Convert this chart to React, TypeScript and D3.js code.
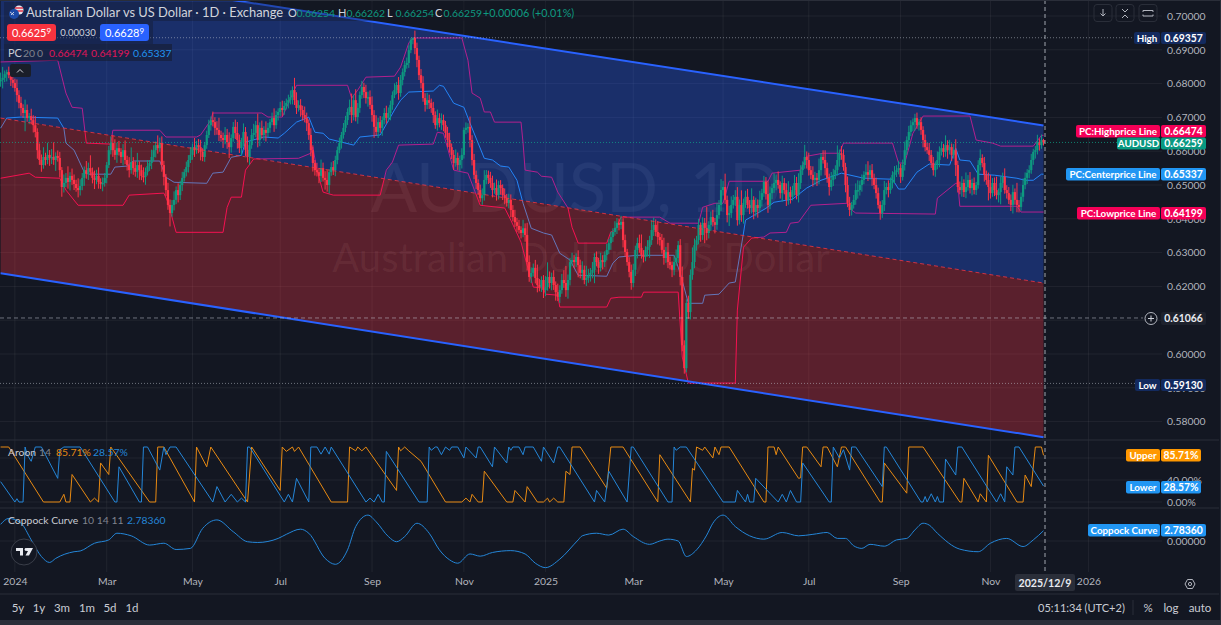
import React, { useEffect, useRef } from 'react';
import * as d3 from 'd3';

// daily closes in pips (0.0001), first bar is late Dec 2023, last is 2025/12/9
const closes = [
  6811, 6817, 6828, 6834, 6825, 6811, 6802, 6787, 6766, 6743,
  6728, 6713, 6722, 6698, 6704, 6692, 6677, 6657, 6603, 6574,
  6559, 6583, 6574, 6589, 6580, 6583, 6574, 6586, 6580, 6544,
  6494, 6506, 6521, 6509, 6527, 6515, 6503, 6491, 6485, 6497,
  6521, 6544, 6533, 6550, 6539, 6521, 6515, 6527, 6509, 6503,
  6506, 6521, 6559, 6603, 6624, 6603, 6589, 6609, 6598, 6583,
  6603, 6574, 6559, 6544, 6568, 6550, 6539, 6559, 6544, 6527,
  6524, 6539, 6556, 6565, 6583, 6603, 6618, 6609, 6624, 6559,
  6524, 6485, 6441, 6417, 6441, 6456, 6485, 6470, 6500, 6521,
  6538, 6553, 6574, 6589, 6612, 6603, 6618, 6612, 6598, 6583,
  6618, 6648, 6677, 6692, 6686, 6669, 6663, 6648, 6639, 6633,
  6648, 6627, 6612, 6639, 6672, 6654, 6633, 6609, 6627, 6657,
  6604, 6583, 6618, 6648, 6654, 6677, 6633, 6669, 6648, 6663,
  6654, 6669, 6686, 6698, 6677, 6707, 6716, 6728, 6722, 6734,
  6743, 6751, 6760, 6781, 6751, 6728, 6736, 6722, 6707, 6698,
  6683, 6648, 6603, 6565, 6544, 6538, 6527, 6550, 6521, 6515,
  6500, 6538, 6553, 6544, 6574, 6603, 6624, 6648, 6669, 6692,
  6716, 6731, 6707, 6751, 6701, 6728, 6766, 6790, 6775, 6757,
  6760, 6737, 6707, 6672, 6657, 6686, 6669, 6692, 6713, 6698,
  6713, 6737, 6766, 6781, 6796, 6772, 6811, 6834, 6855, 6861,
  6899, 6929, 6935, 6905, 6870, 6825, 6802, 6757, 6737, 6751,
  6743, 6728, 6707, 6677, 6698, 6683, 6692, 6677, 6654, 6633,
  6612, 6589, 6565, 6580, 6559, 6574, 6589, 6663, 6669, 6672,
  6633, 6574, 6530, 6506, 6485, 6461, 6470, 6515, 6530, 6521,
  6506, 6485, 6491, 6470, 6500, 6491, 6470, 6461, 6447, 6456,
  6426, 6405, 6390, 6379, 6367, 6358, 6372, 6352, 6272, 6228,
  6240, 6255, 6225, 6204, 6198, 6219, 6189, 6198, 6228, 6210,
  6228, 6204, 6183, 6169, 6189, 6219, 6210, 6189, 6219, 6272,
  6278, 6272, 6287, 6263, 6240, 6249, 6219, 6225, 6234, 6240,
  6249, 6287, 6272, 6255, 6278, 6272, 6293, 6308, 6328, 6346,
  6361, 6373, 6388, 6382, 6391, 6337, 6302, 6272, 6243, 6210,
  6249, 6308, 6328, 6314, 6293, 6287, 6308, 6317, 6337, 6367,
  6382, 6361, 6346, 6337, 6308, 6284, 6302, 6272, 6263, 6249,
  6272, 6284, 6322, 6228, 6026, 5958, 6151, 6124, 6234, 6272,
  6322, 6337, 6382, 6352, 6388, 6373, 6358, 6382, 6405, 6390,
  6382, 6411, 6441, 6485, 6494, 6456, 6411, 6417, 6441, 6456,
  6465, 6396, 6441, 6411, 6447, 6465, 6441, 6432, 6456, 6420,
  6441, 6432, 6456, 6476, 6509, 6473, 6441, 6476, 6491, 6506,
  6515, 6500, 6476, 6506, 6485, 6456, 6479, 6465, 6485, 6506,
  6470, 6506, 6544, 6559, 6583, 6574, 6544, 6530, 6515, 6521,
  6515, 6544, 6583, 6574, 6550, 6521, 6494, 6515, 6530, 6544,
  6574, 6594, 6589, 6553, 6500, 6447, 6426, 6441, 6456, 6485,
  6485, 6500, 6515, 6530, 6538, 6530, 6544, 6521, 6500, 6476,
  6441, 6417, 6441, 6485, 6494, 6485, 6506, 6530, 6538, 6544,
  6550, 6524, 6559, 6603, 6633, 6657, 6677, 6686, 6698, 6677,
  6686, 6663, 6633, 6612, 6603, 6589, 6565, 6544, 6559, 6574,
  6598, 6609, 6598, 6618, 6603, 6612, 6589, 6603, 6559, 6494,
  6485, 6506, 6479, 6494, 6515, 6491, 6506, 6485, 6500, 6559,
  6580, 6565, 6530, 6515, 6494, 6476, 6506, 6485, 6470, 6479,
  6506, 6524, 6485, 6476, 6456, 6441, 6479, 6456, 6441, 6435,
  6465, 6500, 6521, 6536, 6544, 6574, 6598, 6603, 6627, 6618,
  6633, 6626,
];
// wick sizes above and below the candle body, in units of WICK_UNIT pips
const WICK_UNIT = 1.8;
const wickUp = [
  12, 18, 6, 4, 9, 5, 11, 7, 14, 8, 10, 6, 17, 9, 5, 12, 8, 15, 6, 11,
  9, 16, 7, 20, 8, 13, 24, 6, 9, 10, 5, 14, 8, 19, 6, 12, 9, 7, 16, 11,
  8, 6, 15, 9, 21, 7, 12, 10, 14, 6, 9, 8, 5, 7, 11, 13, 18, 9, 12, 6,
  10, 16, 7, 13, 24, 8, 11, 20, 6, 9, 14, 7, 10, 5, 12, 8, 6, 16, 9, 11,
  7, 5, 12, 9, 8, 14, 6, 11, 7, 10, 5, 9, 8, 13, 6, 15, 7, 10, 12, 6,
  5, 7, 9, 6, 14, 8, 11, 20, 7, 9, 13, 10, 16, 6, 8, 12, 18, 9, 7, 14,
  8, 22, 6, 10, 15, 7, 19, 9, 12, 6, 14, 8, 5, 9, 16, 7, 6, 10, 12, 8,
  7, 9, 11, 6, 20, 13, 8, 10, 7, 14, 9, 6, 11, 8, 5, 12, 7, 14, 9, 11,
  16, 5, 8, 10, 7, 6, 9, 5, 8, 7, 6, 12, 22, 9, 18, 8, 6, 10, 7, 12,
  9, 11, 14, 8, 19, 7, 10, 6, 8, 12, 9, 7, 6, 11, 5, 13, 8, 6, 7, 9,
  8, 3, 1, 12, 9, 7, 10, 11, 8, 12, 9, 7, 10, 6, 14, 8, 11, 9, 7, 10,
  12, 6, 8, 14, 9, 7, 11, 4, 9, 6, 17, 8, 10, 7, 6, 9, 11, 16, 8, 7,
  10, 12, 9, 14, 7, 8, 6, 11, 7, 10, 9, 8, 12, 7, 10, 6, 14, 8, 20, 11,
  9, 7, 13, 22, 10, 6, 8, 18, 24, 9, 7, 11, 6, 14, 8, 10, 16, 28, 9, 7,
  12, 8, 6, 11, 9, 14, 7, 20, 10, 8, 13, 6, 9, 7, 12, 8, 6, 10, 7, 9,
  6, 11, 8, 7, 10, 6, 9, 5, 8, 12, 10, 7, 9, 14, 22, 8, 6, 11, 7, 16,
  12, 9, 18, 7, 10, 20, 8, 15, 9, 6, 11, 14, 7, 10, 17, 8, 6, 12, 9, 24,
  11, 7, 10, 4, 9, 8, 35, 6, 9, 12, 7, 20, 8, 18, 10, 22, 7, 12, 14, 8,
  11, 16, 9, 24, 7, 10, 13, 8, 19, 6, 12, 9, 15, 7, 10, 8, 22, 11, 7, 16,
  9, 14, 6, 12, 8, 11, 18, 9, 7, 13, 10, 16, 8, 6, 20, 9, 12, 7, 14, 10,
  8, 19, 6, 11, 16, 9, 7, 13, 10, 8, 24, 6, 12, 9, 7, 14, 10, 5, 8, 11,
  16, 7, 9, 6, 13, 18, 8, 10, 7, 12, 9, 6, 8, 15, 7, 11, 9, 6, 10, 8,
  12, 7, 9, 14, 6, 10, 8, 6, 7, 9, 5, 8, 6, 9, 7, 12, 8, 10, 6, 14,
  9, 11, 7, 16, 8, 12, 6, 10, 18, 7, 9, 11, 6, 24, 8, 13, 7, 9, 5, 8,
  14, 6, 10, 7, 12, 20, 8, 9, 22, 6, 11, 7, 14, 8, 10, 9, 12, 6, 28, 8,
  7, 11, 9, 6, 8, 10, 5, 7, 12, 6, 9, 2,
];
const wickDown = [
  9, 14, 7, 12, 5, 10, 8, 6, 11, 9, 13, 8, 30, 6, 10, 7, 12, 9, 14, 8,
  11, 6, 9, 7, 13, 10, 8, 18, 6, 12, 16, 9, 7, 11, 14, 8, 10, 6, 12, 9,
  7, 13, 8, 10, 6, 9, 15, 7, 11, 8, 12, 6, 9, 5, 7, 11, 8, 13, 6, 10,
  14, 7, 9, 12, 6, 11, 8, 10, 16, 7, 9, 13, 6, 8, 10, 7, 12, 9, 6, 11,
  14, 10, 8, 22, 6, 9, 7, 12, 8, 10, 6, 7, 9, 5, 8, 11, 6, 10, 14, 7,
  8, 6, 5, 9, 7, 12, 8, 10, 6, 13, 7, 11, 18, 9, 6, 10, 14, 8, 12, 7,
  10, 9, 13, 6, 8, 7, 12, 10, 6, 9, 14, 7, 8, 5, 11, 6, 9, 7, 10, 8,
  6, 9, 7, 12, 8, 10, 6, 11, 9, 7, 13, 8, 10, 14, 9, 7, 12, 10, 6, 16,
  11, 14, 6, 8, 10, 7, 5, 9, 6, 7, 8, 5, 13, 9, 7, 11, 8, 6, 10, 9,
  14, 7, 11, 18, 6, 10, 8, 13, 7, 9, 6, 12, 8, 5, 7, 11, 6, 9, 7, 6,
  8, 5, 7, 10, 12, 8, 9, 6, 11, 7, 10, 8, 13, 6, 9, 7, 11, 10, 8, 12,
  9, 7, 11, 6, 8, 10, 14, 6, 7, 8, 12, 9, 7, 10, 8, 6, 11, 9, 7, 10,
  8, 12, 6, 9, 7, 11, 8, 10, 6, 9, 12, 7, 8, 10, 6, 9, 7, 11, 14, 8,
  10, 6, 9, 12, 7, 8, 13, 10, 6, 9, 12, 8, 14, 7, 10, 6, 8, 11, 14, 9,
  7, 10, 8, 20, 9, 12, 7, 10, 8, 11, 9, 22, 7, 10, 6, 12, 8, 9, 7, 11,
  8, 6, 10, 9, 7, 12, 8, 6, 9, 11, 7, 10, 14, 8, 6, 9, 7, 11, 18, 8,
  10, 7, 12, 9, 6, 11, 8, 10, 7, 12, 9, 6, 8, 14, 10, 9, 7, 11, 12, 8,
  10, 9, 7, 11, 8, 25, 12, 9, 10, 7, 14, 8, 6, 10, 9, 7, 12, 18, 8, 6,
  10, 9, 7, 11, 14, 8, 6, 10, 9, 12, 7, 16, 8, 11, 6, 9, 13, 7, 10, 8,
  12, 6, 9, 14, 7, 10, 8, 11, 6, 9, 7, 12, 10, 8, 6, 14, 9, 7, 11, 8,
  10, 7, 9, 6, 12, 8, 14, 6, 10, 7, 9, 11, 8, 6, 12, 7, 10, 9, 6, 8,
  14, 9, 11, 7, 6, 10, 8, 13, 7, 9, 6, 11, 8, 10, 7, 12, 6, 9, 14, 8,
  7, 10, 6, 9, 8, 11, 7, 10, 14, 6, 9, 8, 12, 7, 6, 10, 8, 9, 11, 7,
  12, 6, 9, 8, 14, 7, 10, 6, 18, 9, 7, 11, 8, 10, 6, 9, 12, 7, 8, 6,
  9, 7, 11, 8, 22, 9, 6, 10, 7, 12, 20, 8, 6, 9, 7, 10, 14, 8, 12, 9,
  6, 8, 7, 10, 9, 6, 8, 11, 7, 9, 6, 5,
];

// price channel, [bar, pips], only the corners of each step are kept
const pcHigh = [
  [0, 6864], [28, 6869], [32, 6772], [35, 6730], [40, 6727], [42, 6624], [54, 6621], [55, 6662], [78, 6662], [81, 6642],
  [96, 6642], [98, 6648], [103, 6692], [104, 6713], [128, 6713], [131, 6701], [138, 6701], [141, 6742], [145, 6795], [170, 6795],
  [172, 6757], [175, 6781], [179, 6819], [193, 6822], [196, 6849], [200, 6920], [202, 6935], [226, 6935], [229, 6869], [231, 6772],
  [235, 6757], [237, 6716], [240, 6716], [242, 6686], [255, 6686], [256, 6624], [257, 6544], [263, 6538], [265, 6526], [270, 6523],
  [273, 6479], [278, 6432], [280, 6375], [283, 6328], [297, 6328], [299, 6361], [301, 6366], [304, 6405], [323, 6405], [328, 6387],
  [342, 6387], [344, 6434], [350, 6446], [354, 6446], [357, 6511], [376, 6511], [378, 6535], [392, 6544], [395, 6585], [403, 6594],
  [411, 6594], [413, 6624], [437, 6624], [440, 6565], [443, 6565], [447, 6653], [452, 6704], [475, 6704], [478, 6633], [486, 6624],
  [490, 6615], [506, 6615], [510, 6647], [511, 6647],
];
const pcLow = [
  [0, 6520], [14, 6535], [17, 6523], [29, 6520], [32, 6485], [38, 6440], [60, 6440], [63, 6470], [80, 6476], [82, 6449],
  [86, 6360], [109, 6360], [111, 6434], [113, 6464], [118, 6464], [120, 6544], [124, 6577], [146, 6579], [152, 6594], [153, 6612],
  [155, 6544], [158, 6479], [163, 6470], [186, 6470], [189, 6544], [192, 6568], [195, 6618], [212, 6621], [214, 6656], [217, 6653],
  [222, 6544], [229, 6535], [235, 6440], [247, 6432], [250, 6396], [255, 6331], [259, 6239], [261, 6198], [266, 6195], [267, 6177],
  [273, 6174], [274, 6139], [297, 6139], [299, 6165], [303, 6168], [314, 6168], [315, 6183], [332, 6183], [334, 5991], [337, 5914],
  [360, 5914], [361, 6130], [364, 6316], [368, 6343], [374, 6346], [377, 6358], [385, 6360], [387, 6387], [391, 6390], [397, 6440],
  [415, 6446], [417, 6426], [419, 6417], [458, 6414], [459, 6461], [468, 6505], [469, 6505], [470, 6437], [498, 6437], [500, 6420],
  [511, 6420],
];
const pcCenter = [
  [0, 6668], [3, 6698], [10, 6701], [28, 6698], [31, 6668], [32, 6624], [36, 6603], [41, 6538], [43, 6532], [54, 6532],
  [56, 6553], [62, 6556], [65, 6571], [78, 6571], [81, 6523], [85, 6508], [101, 6505], [104, 6535], [109, 6538], [113, 6582],
  [118, 6588], [120, 6627], [129, 6642], [136, 6639], [139, 6653], [145, 6686], [151, 6701], [154, 6656], [158, 6653], [161, 6636],
  [173, 6618], [176, 6642], [186, 6648], [193, 6722], [196, 6751], [200, 6775], [212, 6778], [215, 6795], [217, 6792], [222, 6742],
  [227, 6730], [230, 6683], [237, 6579], [241, 6574], [245, 6556], [249, 6553], [253, 6514], [256, 6446], [260, 6372], [266, 6358],
  [270, 6352], [274, 6298], [279, 6278], [283, 6233], [297, 6230], [300, 6269], [303, 6287], [312, 6292], [330, 6292], [333, 6239],
  [337, 6150], [344, 6150], [345, 6174], [352, 6177], [357, 6210], [360, 6213], [364, 6358], [365, 6396], [375, 6431], [379, 6449],
  [388, 6458], [395, 6491], [402, 6514], [412, 6535], [423, 6520], [437, 6517], [440, 6488], [443, 6488], [449, 6538], [455, 6562],
  [465, 6559], [468, 6609], [470, 6574], [475, 6571], [479, 6532], [487, 6529], [498, 6520], [502, 6514], [506, 6514], [510, 6532],
  [511, 6532],
];

// drawn trend channel, price at the first and last bar
const channelBars = [0, 511];
const channelUpper = [0.71535, 0.6676];
const channelMiddle = [0.6698, 0.621];
const channelLower = [0.6239, 0.5754];

const aroonUpper = [
  [0, 100], [4, 100], [21, 0], [29, 0], [31, 14], [32, 0], [34, 0], [35, 50], [44, 0], [46, 7], [48, 0], [49, 71], [53, 50], [54, 100],
  [73, 0], [76, 0], [77, 100], [80, 100], [95, 0], [96, 100], [101, 64], [103, 100], [121, 0], [123, 100], [137, 21], [138, 100],
  [140, 92], [143, 100], [144, 92], [146, 100], [162, 0], [170, 0], [171, 100], [174, 93], [175, 100], [177, 93], [179, 100], [194, 21],
  [195, 100], [196, 93], [198, 100], [200, 93], [206, 74], [218, 0], [226, 0], [228, 7], [230, 0], [231, 14], [234, 0], [236, 0],
  [237, 56], [248, 0], [251, 0], [252, 21], [257, 0], [258, 28], [263, 0], [266, 0], [268, 7], [269, 0], [271, 7], [273, 0], [276, 0],
  [277, 56], [279, 50], [280, 100], [284, 100], [297, 25], [299, 100], [305, 100], [322, 0], [323, 86], [338, 0], [339, 61], [340, 58],
  [341, 100], [344, 94], [345, 100], [349, 80], [350, 100], [352, 86], [353, 100], [357, 100], [374, 0], [375, 0], [376, 100], [379, 100],
  [380, 86], [381, 100], [391, 43], [392, 44], [393, 100], [395, 100], [402, 64], [403, 100], [405, 100], [410, 64], [412, 100], [414, 100],
  [431, 0], [432, 0], [433, 71], [444, 16], [445, 100], [452, 100], [470, 0], [471, 0], [472, 43], [479, 0], [480, 15], [483, 0], [484, 85],
  [498, 0], [501, 0], [502, 49], [505, 28], [507, 100], [510, 100], [511, 85],
];
const aroonLower = [
  [0, 37], [7, 0], [8, 6], [9, 0], [11, 0], [12, 100], [13, 86], [15, 74], [17, 100], [20, 100], [28, 43], [29, 95], [31, 100], [39, 100],
  [56, 0], [57, 0], [58, 64], [68, 0], [69, 0], [70, 100], [72, 100], [78, 58], [80, 100], [81, 86], [83, 100], [86, 100], [104, 0], [106, 28],
  [110, 0], [113, 14], [116, 0], [118, 7], [120, 0], [121, 100], [122, 100], [139, 0], [141, 14], [143, 0], [145, 43], [151, 0], [152, 100],
  [155, 100], [157, 87], [159, 100], [161, 87], [162, 100], [179, 0], [181, 7], [183, 0], [185, 14], [187, 0], [188, 0], [189, 92], [205, 0],
  [209, 0], [210, 100], [211, 94], [213, 100], [214, 100], [216, 86], [218, 100], [220, 94], [221, 100], [224, 100], [227, 80], [228, 100],
  [233, 80], [234, 100], [235, 100], [241, 64], [242, 100], [248, 71], [249, 100], [250, 94], [251, 100], [254, 100], [256, 86], [257, 100],
  [261, 100], [265, 74], [266, 100], [271, 71], [273, 100], [274, 100], [291, 0], [292, 21], [296, 0], [298, 56], [307, 0], [309, 100],
  [310, 100], [327, 0], [329, 0], [330, 100], [331, 94], [333, 100], [336, 100], [354, 0], [360, 0], [361, 21], [365, 0], [366, 14], [367, 0],
  [369, 0], [370, 43], [381, 0], [383, 14], [385, 0], [387, 21], [390, 0], [392, 0], [393, 71], [402, 22], [406, 0], [407, 0], [408, 100],
  [411, 80], [413, 95], [416, 58], [417, 100], [419, 100], [432, 28], [433, 100], [434, 100], [451, 0], [452, 0], [453, 10], [454, 0], [456, 15],
  [458, 0], [459, 10], [460, 0], [462, 0], [463, 78], [468, 49], [469, 100], [471, 100], [488, 0], [490, 15], [492, 0], [493, 64], [496, 49],
  [497, 100], [499, 100], [511, 29],
];
const coppock = [
  [0, 4.5], [4, 6.1], [10, 4.8], [15, 0.3], [20, -4.2], [24, -5.8], [27, -4.7], [36, -2.9], [39, -2.7], [46, -0.6], [53, 0.3], [57, 2.1],
  [64, 1.4], [73, -1.1], [80, -0.6], [86, -2.3], [93, -2.0], [99, 3.4], [106, 5.7], [114, 2.5], [121, -0.2], [126, -0.4], [136, 0.7], [140, 1.8],
  [147, 3.2], [151, 2.1], [159, -4.7], [164, -6.3], [170, -2.4], [174, 3.9], [180, 7.0], [184, 5.2], [190, 1.2], [194, -0.2], [198, 1.2], [204, 4.8],
  [210, 2.1], [215, -2.4], [220, -5.1], [224, -6.0], [230, -3.5], [235, -4.1], [241, -3.1], [250, -2.6], [257, -3.5], [262, -6.0], [267, -7.2],
  [274, -4.9], [283, 0.3], [285, 1.4], [292, 2.1], [298, 1.6], [305, 3.2], [310, 1.2], [318, -0.9], [323, 0], [327, 0.5], [332, 0], [336, -4.2],
  [341, -2.4], [346, 1.6], [349, 4.8], [354, 7.0], [360, 3.9], [367, 1.4], [374, 0.5], [383, 2.3], [391, 1.4], [398, 1.8], [405, 2.3], [410, 0.7],
  [414, 0.7], [418, -1.3], [422, -2], [426, -0.9], [433, -1.4], [439, 0.3], [444, 0.7], [448, 3], [452, 4.8], [455, 4.3], [459, 2.1], [470, -2.2],
  [479, -2.9], [485, -0.6], [493, 0.7], [501, -1.5], [506, 0.3], [511, 2.78],
];

const priceGrid = [0.7, 0.69, 0.68, 0.67, 0.66, 0.65, 0.64, 0.63, 0.62, 0.61, 0.6, 0.59, 0.58];
const priceLabels = [0.7, 0.69, 0.68, 0.67, 0.66, 0.65, 0.64, 0.63, 0.62, 0.6, 0.59, 0.58];
const timeTickBars = [7, 52, 94, 137, 182, 227, 267, 310, 354, 396, 441, 485, 533];
const timeTickLabels = ['2024', 'Mar', 'May', 'Jul', 'Sep', 'Nov', '2025', 'Mar', 'May', 'Jul', 'Sep', 'Nov', '2026'];
const rangeButtons = ['5y', '1y', '3m', '1m', '5d', '1d'];

const UP = '#0e9a80';
const DOWN = '#ff3347';
const GRID = 'rgba(255,255,255,0.06)';
const AXIS_TEXT = '#b2b5be';
const FONT = 'Lato, "Open Sans", sans-serif';

const App: React.FC = () => {
  const svgRef = useRef<SVGSVGElement>(null);

  useEffect(() => {
    if (!svgRef.current) return;
    const width = 1221;
    const height = 625;
    const lastX = 1045;

    const svg = d3.select(svgRef.current).attr('width', width).attr('height', height);
    svg.selectAll('*').remove();
    svg.style('display', 'block').style('background', '#131722').style('font-family', FONT);

    const x = d3.scaleLinear().domain([0, 511]).range([0.6, 1043.5]);
    const yPrice = d3.scaleLinear().domain([0.7, 0.58]).range([16, 421.6]);
    const yAroon = d3.scaleLinear().domain([100, 0]).range([447, 502]);
    const yCoppock = d3.scaleLinear().domain([0, 2.7836]).range([541, 530.7]);

    const defs = svg.append('defs');
    defs.append('clipPath').attr('id', 'main').append('rect').attr('x', 0).attr('y', 0).attr('width', lastX).attr('height', 440);

    // grid
    const grid = svg.append('g').attr('stroke', GRID);
    grid.selectAll('.v').data(timeTickBars).enter().append('line')
      .attr('x1', d => x(d)).attr('x2', d => x(d)).attr('y1', 0).attr('y2', 572);
    grid.selectAll('.h').data(priceGrid).enter().append('line')
      .attr('x1', 0).attr('x2', 1162).attr('y1', d => yPrice(d)).attr('y2', d => yPrice(d));
    grid.selectAll('.a').data([80, 40, 0]).enter().append('line')
      .attr('x1', 0).attr('x2', 1162).attr('y1', d => yAroon(d)).attr('y2', d => yAroon(d));
    grid.append('line').attr('x1', 0).attr('x2', 1162).attr('y1', yCoppock(0)).attr('y2', yCoppock(0));

    // watermark
    svg.append('text').attr('x', 576).attr('y', 212).attr('text-anchor', 'middle')
      .attr('font-size', 68.5).attr('fill', 'rgba(255,255,255,0.07)').text('AUDUSD, 1D');
    svg.append('text').attr('x', 581).attr('y', 272).attr('text-anchor', 'middle')
      .attr('font-size', 40).attr('fill', 'rgba(255,255,255,0.07)').text('Australian Dollar / US Dollar');

    const main = svg.append('g').attr('clip-path', 'url(#main)');

    // price channel sits under the drawn channel fills, which tint it
    const pcLine = d3.line<number[]>().x(d => x(d[0])).y(d => yPrice(d[1] / 10000));
    [[pcHigh, '#f50057'], [pcLow, '#f50057'], [pcCenter, '#2196f3']].forEach(([data, color]) => {
      main.append('path').datum(data as number[][]).attr('d', pcLine as any)
        .attr('fill', 'none').attr('stroke', color as string).attr('stroke-width', 1);
    });

    // drawn channel
    const band = (top: number[], bottom: number[]) =>
      d3.area<number>().x(d => x(d)).y0((_, i) => yPrice(top[i])).y1((_, i) => yPrice(bottom[i]))(channelBars);
    main.append('path').attr('d', band(channelUpper, channelMiddle)).attr('fill', '#2962ff').attr('fill-opacity', 0.33);
    main.append('path').attr('d', band(channelMiddle, channelLower)).attr('fill', '#f23645').attr('fill-opacity', 0.32);

    // reference levels
    const level = (price: number, x2: number, color: string, dash: string) =>
      svg.append('line').attr('x1', 0).attr('x2', x2).attr('y1', yPrice(price)).attr('y2', yPrice(price))
        .attr('stroke', color).attr('stroke-dasharray', dash);
    level(0.69357, 1134, 'rgba(200,205,215,0.5)', '1 2');
    level(0.5913, 1135, 'rgba(200,205,215,0.5)', '1 2');
    level(0.66259, 1117, 'rgba(14,170,140,0.7)', '1 2');
    level(0.61066, 1143, 'rgba(200,205,215,0.5)', '4 3');

    // candles
    const opens = closes.map((c, i) => (i === 0 ? c - 4 : closes[i - 1]));
    const candles = main.selectAll('.candle').data(closes).enter().append('g');
    candles.append('line')
      .attr('x1', (_, i) => x(i)).attr('x2', (_, i) => x(i))
      .attr('y1', (d, i) => yPrice((Math.max(d, opens[i]) + wickUp[i] * WICK_UNIT) / 10000))
      .attr('y2', (d, i) => yPrice((Math.min(d, opens[i]) - wickDown[i] * WICK_UNIT) / 10000))
      .attr('stroke', (d, i) => (d >= opens[i] ? UP : DOWN));
    candles.append('rect')
      .attr('x', (_, i) => x(i) - 1.1).attr('width', 2.2)
      .attr('y', (d, i) => yPrice(Math.max(d, opens[i]) / 10000))
      .attr('height', (d, i) => Math.max(1.5, yPrice(Math.min(d, opens[i]) / 10000) - yPrice(Math.max(d, opens[i]) / 10000)))
      .attr('fill', (d, i) => (d >= opens[i] ? UP : DOWN));

    // channel edges
    const edge = (values: number[]) => d3.line<number>().x(d => x(d)).y((_, i) => yPrice(values[i]))(channelBars);
    main.append('path').attr('d', edge(channelUpper)).attr('fill', 'none').attr('stroke', '#2962ff').attr('stroke-width', 2);
    main.append('path').attr('d', edge(channelLower)).attr('fill', 'none').attr('stroke', '#2962ff').attr('stroke-width', 2);
    main.append('path').attr('d', edge(channelMiddle)).attr('fill', 'none').attr('stroke', '#f23645')
      .attr('stroke-dasharray', '4 3').attr('stroke-opacity', 0.8);

    // aroon
    const aroonLine = d3.line<number[]>().x(d => x(d[0])).y(d => yAroon(d[1]));
    svg.append('path').datum(aroonUpper).attr('d', aroonLine).attr('fill', 'none').attr('stroke', '#e88a12').attr('stroke-width', 1);
    svg.append('path').datum(aroonLower).attr('d', aroonLine).attr('fill', 'none').attr('stroke', '#2486d8').attr('stroke-width', 1);

    // coppock
    const coppockLine = d3.line<number[]>().x(d => x(d[0])).y(d => yCoppock(d[1])).curve(d3.curveMonotoneX);
    svg.append('path').datum(coppock).attr('d', coppockLine).attr('fill', 'none').attr('stroke', '#2486d8').attr('stroke-width', 1);

    // separators
    const seps = svg.append('g').attr('stroke', '#2a2e39');
    [440, 508].forEach(y => seps.append('line').attr('x1', 0).attr('x2', 1219).attr('y1', y).attr('y2', y));
    seps.append('line').attr('x1', 0).attr('x2', 1219).attr('y1', 594).attr('y2', 594);

    // crosshair
    svg.append('line').attr('x1', lastX).attr('x2', lastX).attr('y1', 0).attr('y2', 574)
      .attr('stroke', 'rgba(210,214,222,0.75)').attr('stroke-dasharray', '4 3');

    // axes
    const styleAxis = (g: d3.Selection<SVGGElement, unknown, null, undefined>) => {
      g.select('.domain').remove();
      g.selectAll('.tick line').remove();
      g.selectAll('text').attr('fill', AXIS_TEXT).attr('font-size', 10.4).style('font-family', FONT);
    };
    svg.append('g').attr('transform', 'translate(1167,0)')
      .call(d3.axisRight(yPrice).tickValues(priceLabels).tickFormat(d3.format('.5f') as any).tickSize(0).tickPadding(0))
      .call(styleAxis as any);
    svg.append('g').attr('transform', 'translate(1167,0)')
      .call(d3.axisRight(yAroon).tickValues([40, 0]).tickFormat(d => `${d3.format('.2f')(d as number)}%`).tickSize(0).tickPadding(0))
      .call(styleAxis as any);
    svg.append('g').attr('transform', 'translate(1167,0)')
      .call(d3.axisRight(yCoppock).tickValues([0]).tickFormat(d3.format('.5f') as any).tickSize(0).tickPadding(0))
      .call(styleAxis as any);
    svg.append('g').attr('transform', 'translate(0,574)')
      .call(d3.axisBottom(x).tickValues(timeTickBars).tickFormat((_, i) => timeTickLabels[i]).tickSize(0).tickPadding(4))
      .call(styleAxis as any);

    // date tag on the crosshair
    svg.append('rect').attr('x', 1015).attr('y', 574).attr('width', 60).attr('height', 17).attr('rx', 2).attr('fill', '#2a2e39');
    svg.append('text').attr('x', 1045).attr('y', 586.5).attr('text-anchor', 'middle').attr('font-size', 10.6)
      .attr('fill', '#e8eaf0').attr('font-weight', 700).text('2025/12/9');

    // price tags on the right
    const tag = (y0: number, h: number, name: string, value: string, left: number, right: number, bg: string) => {
      svg.append('rect').attr('x', left).attr('y', y0).attr('width', 1160 - left).attr('height', h).attr('rx', 2).attr('fill', bg);
      svg.append('rect').attr('x', 1161).attr('y', y0).attr('width', right - 1161).attr('height', h).attr('rx', 2).attr('fill', bg);
      svg.append('text').attr('x', (left + 1160) / 2).attr('y', y0 + h / 2 + 3.6).attr('text-anchor', 'middle')
        .attr('font-size', 9.8).attr('font-weight', 700).attr('fill', '#fff').text(name);
      svg.append('text').attr('x', (1161 + right) / 2).attr('y', y0 + h / 2 + 3.8).attr('text-anchor', 'middle')
        .attr('font-size', 10.4).attr('font-weight', 700).attr('fill', '#fff').text(value);
    };
    tag(32, 12, 'High', '0.69357', 1134, 1206, '#132a5e');
    tag(125, 12.5, 'PC:Highprice Line', '0.66474', 1076, 1206, '#f50057');
    tag(137.5, 12, 'AUDUSD', '0.66259', 1117, 1206, '#089981');
    tag(168, 12.5, 'PC:Centerprice Line', '0.65337', 1066, 1206, '#2196f3');
    tag(207, 12.5, 'PC:Lowprice Line', '0.64199', 1077, 1206, '#f50057');
    tag(379, 12, 'Low', '0.59130', 1135, 1206, '#132a5e');
    tag(449, 12.5, 'Upper', '85.71%', 1126, 1201, '#ff9800');
    tag(481, 12.5, 'Lower', '28.57%', 1126, 1201, '#2196f3');
    tag(524, 12.5, 'Coppock Curve', '2.78360', 1088, 1206, '#2196f3');

    // crosshair price
    svg.append('rect').attr('x', 1161).attr('y', 312).attr('width', 45).attr('height', 13).attr('rx', 2).attr('fill', '#1e222d');
    svg.append('text').attr('x', 1183.5).attr('y', 322).attr('text-anchor', 'middle').attr('font-size', 10.4)
      .attr('font-weight', 700).attr('fill', '#e8eaf0').text('0.61066');
    svg.append('circle').attr('cx', 1151).attr('cy', 318.5).attr('r', 6).attr('fill', '#131722').attr('stroke', '#b2b5be');
    svg.append('path').attr('d', 'M1148 318.5h6M1151 315.5v6').attr('stroke', '#d1d4dc');

    // legend panel
    svg.append('rect').attr('x', 4).attr('y', 2).attr('width', 566).attr('height', 19).attr('fill', 'rgba(19,23,34,0.35)');
    svg.append('rect').attr('x', 4).attr('y', 21).attr('width', 149).attr('height', 23).attr('fill', 'rgba(19,23,34,0.35)');
    svg.append('rect').attr('x', 4).attr('y', 44).attr('width', 168).attr('height', 17).attr('fill', 'rgba(19,23,34,0.5)');

    // little flags
    svg.append('circle').attr('cx', 19).attr('cy', 10).attr('r', 4.5).attr('fill', '#e8e8ee');
    svg.append('path').attr('d', 'M15 8h8M15 11h8').attr('stroke', '#e0354a').attr('stroke-width', 1.5);
    svg.append('circle').attr('cx', 14).attr('cy', 14).attr('r', 5).attr('fill', '#1c4aa8');
    svg.append('path').attr('d', 'M10 12l4 3M14 12l-3 3').attr('stroke', '#e8e8ee').attr('stroke-width', 0.8);

    svg.append('text').attr('x', 26).attr('y', 17).attr('font-size', 12.9).attr('fill', '#d1d4dc')
      .text('Australian Dollar vs US Dollar · 1D · Exchange');
    const ohlc = [['O', '0.66254'], ['H', '0.66262'], ['L', '0.66254'], ['C', '0.66259']];
    const ohlcX = [288, 338, 387, 435];
    ohlc.forEach(([k, v], i) => {
      svg.append('text').attr('x', ohlcX[i]).attr('y', 17).attr('font-size', 11).attr('fill', '#d1d4dc').text(k);
      svg.append('text').attr('x', ohlcX[i] + 8.5).attr('y', 17).attr('font-size', 10.4).attr('fill', '#0e9a80').text(v);
    });
    svg.append('text').attr('x', 483).attr('y', 17).attr('font-size', 10.8).attr('fill', '#0e9a80').text('+0.00006 (+0.01%)');

    // bid and ask buttons
    const button = (left: number, bg: string, text: string) => {
      svg.append('rect').attr('x', left).attr('y', 24).attr('width', 49).attr('height', 17).attr('rx', 3).attr('fill', bg);
      const t = svg.append('text').attr('x', left + 24.5).attr('y', 36.5).attr('text-anchor', 'middle')
        .attr('font-size', 11).attr('fill', '#fff');
      t.append('tspan').text(text.slice(0, -1));
      t.append('tspan').attr('font-size', 8).attr('dy', -3).text(text.slice(-1));
    };
    button(7, '#f7333f', '0.66259');
    button(100, '#2962ff', '0.66289');
    svg.append('text').attr('x', 78).attr('y', 36).attr('text-anchor', 'middle').attr('font-size', 9.5).attr('fill', '#d1d4dc').text('0.00030');

    // legends, one text per value so each starts where the reference has it
    const legend = (y: number, items: [number, string, string, number?][]) => {
      items.forEach(([lx, s, color, size]) => {
        svg.append('text').attr('x', lx).attr('y', y).attr('font-size', size ?? 10.4).attr('fill', color).text(s);
      });
    };
    legend(57, [
      [8, 'PC', '#c9ccd4', 11], [23, '20', '#80848e'], [37, '0', '#80848e'],
      [49, '0.66474', '#e0155a'], [91, '0.64199', '#e0155a'], [133, '0.65337', '#2196f3'],
    ]);
    svg.append('rect').attr('x', 10).attr('y', 64).attr('width', 21).attr('height', 13).attr('rx', 2).attr('fill', '#1a1e29');
    svg.append('path').attr('d', 'M17 72.5l3-3 3 3').attr('fill', 'none').attr('stroke', '#d1d4dc');

    legend(456, [
      [8, 'Aroon', '#c9ccd4'], [39, '14', '#80848e'],
      [56, '85.71%', '#e88a12'], [93, '28.57%', '#2486d8'],
    ]);
    legend(524, [
      [8, 'Coppock Curve', '#c9ccd4'], [82, '10 14 11', '#80848e'], [127, '2.78360', '#2486d8'],
    ]);

    // logo
    svg.append('circle').attr('cx', 24).attr('cy', 552).attr('r', 13).attr('fill', '#131722').attr('stroke', '#3a3e49');
    svg.append('path').attr('d', 'M16 548h7v7.5h-3v-4.5h-4zM26.5 548h6.5l-4 7.5h-3.5l2.5-4.5h-1.5z').attr('fill', '#e8eaf0');
    svg.append('circle').attr('cx', 26).attr('cy', 549.5).attr('r', 1.4).attr('fill', '#e8eaf0');

    // chart buttons top right
    [1103, 1125, 1148].forEach(cx => {
      svg.append('rect').attr('x', cx - 9).attr('y', 4.5).attr('width', 18).attr('height', 17).attr('rx', 3)
        .attr('fill', 'none').attr('stroke', '#2a2e39');
    });
    svg.append('path').attr('d', 'M1103 9v7M1100.5 13.5l2.5 2.5 2.5-2.5M1122 9l3 3 3-3M1122 18l3-3 3 3M1143 12v-1.5h10v1.5M1153 14.5v1.5h-10v-1.5')
      .attr('fill', 'none').attr('stroke', '#b2b5be');

    // bottom bar
    svg.selectAll('.range').data(rangeButtons).enter().append('text')
      .attr('x', (_, i) => [18, 39, 62, 87, 110, 132][i]).attr('y', 612).attr('text-anchor', 'middle')
      .attr('font-size', 11.5).attr('fill', '#c9ccd4').text(d => d);
    svg.append('text').attr('x', 1038).attr('y', 612).attr('font-size', 11).attr('fill', '#c9ccd4').text('05:11:34 (UTC+2)');
    svg.append('line').attr('x1', 1133).attr('x2', 1133).attr('y1', 600).attr('y2', 615).attr('stroke', '#2a2e39');
    svg.append('text').attr('x', 1148).attr('y', 612).attr('text-anchor', 'middle').attr('font-size', 11.5).attr('fill', '#c9ccd4').text('%');
    svg.append('text').attr('x', 1171).attr('y', 612).attr('text-anchor', 'middle').attr('font-size', 11.5).attr('fill', '#c9ccd4').text('log');
    svg.append('text').attr('x', 1200).attr('y', 612).attr('text-anchor', 'middle').attr('font-size', 11.5).attr('fill', '#c9ccd4').text('auto');

    // settings gear
    svg.append('path').attr('d', 'M1185 584l2.5-4.5h5l2.5 4.5-2.5 4.5h-5z').attr('fill', 'none').attr('stroke', '#b2b5be');
    svg.append('circle').attr('cx', 1190).attr('cy', 584).attr('r', 1.6).attr('fill', 'none').attr('stroke', '#b2b5be');

    // outer frame
    svg.append('rect').attr('x', 0).attr('y', 620).attr('width', width).attr('height', 5).attr('fill', '#2a2e39');
    svg.append('rect').attr('x', 0).attr('y', 0).attr('width', width).attr('height', 1).attr('fill', '#2a2e39');
    svg.append('rect').attr('x', 1220).attr('y', 0).attr('width', 1).attr('height', height).attr('fill', '#2a2e39');
  }, []);

  return (
    <>
      <style>{'body{margin:0;background:#131722}'}</style>
      <svg ref={svgRef} />
    </>
  );
};

export default App;
